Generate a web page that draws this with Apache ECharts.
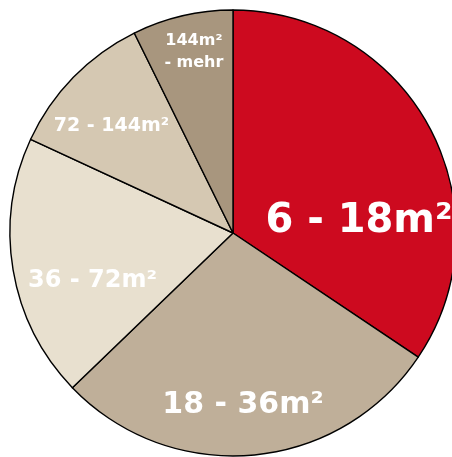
<!DOCTYPE html>
<html>
<head>
<meta charset="utf-8">
<script src="https://cdn.jsdelivr.net/npm/echarts@6/dist/echarts.min.js"></script>
<style>
  html, body { margin: 0; padding: 0; background: #ffffff; }
  #chart { width: 452px; height: 457px; }
</style>
</head>
<body>
<div id="chart"></div>
<script>
// Floor-area classes and their shares (percent)
const categories = ['6 - 18m²', '18 - 36m²', '36 - 72m²', '72 - 144m²', '144m²\n- mehr'];
const shares = [34.4, 28.4, 19.1, 10.8, 7.3];
const sliceColors = ['#cd0a1f', '#bfaf99', '#e8e0cf', '#d5c8b2', '#a8967e'];

// Label styling per slice: font size, and placement as [angle clockwise from top in degrees, fraction of radius]
const labelSizes = [40, 30, 24, 19, 16];
const labelSpots = [[85, 0.567], [176.7, 0.775], [251.3, 0.665], [311.3, 0.726], [347.8, 0.83]];

const CENTER = [233, 233];
const RADIUS = 223;

const chart = echarts.init(document.getElementById('chart'), null, { renderer: 'canvas' });

const data = categories.map((name, i) => ({
  name: name,
  value: shares[i],
  itemStyle: { color: sliceColors[i] },
  label: {
    fontSize: labelSizes[i],
    lineHeight: Math.round(labelSizes[i] * 1.4)
  }
}));

chart.setOption({
  animation: false,
  backgroundColor: '#ffffff',
  series: [{
    type: 'pie',
    center: CENTER,
    radius: [0, RADIUS],
    startAngle: 90,
    clockwise: true,
    data: data,
    itemStyle: { borderColor: '#000000', borderWidth: 1.4 },
    label: {
      show: true,
      position: 'inside',
      color: '#ffffff',
      fontFamily: 'DejaVu Sans',
      fontWeight: 'bold',
      align: 'center',
      verticalAlign: 'middle',
      formatter: '{b}'
    },
    labelLine: { show: false },
    emphasis: { disabled: true },
    labelLayout: function (params) {
      const spot = labelSpots[params.dataIndex];
      const a = spot[0] * Math.PI / 180;
      const r = spot[1] * RADIUS;
      return {
        x: CENTER[0] + r * Math.sin(a),
        y: CENTER[1] - r * Math.cos(a),
        align: 'center',
        verticalAlign: 'middle',
        hideOverlap: false
      };
    }
  }]
});
</script>
</body>
</html>
